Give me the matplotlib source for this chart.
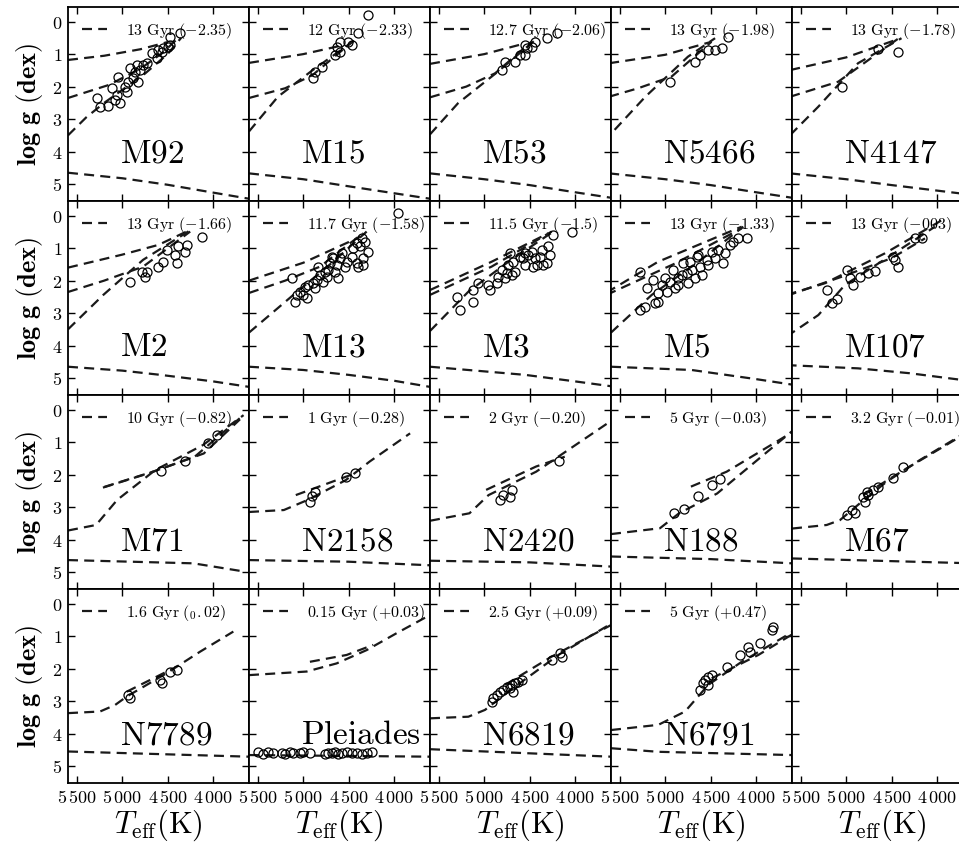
import matplotlib.pyplot as plt

plt.rcParams['mathtext.fontset'] = 'cm'

# ---- observed giants: effective temperature (K) and log g (dex) ----
m92_teff = [5283, 5246, 5154, 5117, 5080, 5062, 5044, 5025, 4970, 4933, 4951, 4915, 4878, 4859,
            4841, 4823, 4804, 4767, 4731, 4675, 4620, 4602, 4565, 4546, 4491, 4473, 4473, 4362]
m92_logg = [2.36, 2.62, 2.60, 2.05, 2.41, 2.26, 1.69, 2.51, 2.00, 1.85, 2.16, 1.44, 1.74, 1.54,
            1.33, 1.85, 1.49, 1.33, 1.28, 0.98, 1.13, 0.87, 0.92, 0.82, 0.77, 0.46, 0.72, 0.36]
m15_teff = [4889, 4871, 4797, 4650, 4631, 4594, 4594, 4502, 4465, 4392, 4281]
m15_logg = [1.75, 1.54, 1.39, 1.03, 0.77, 0.62, 0.93, 0.62, 0.72, 0.36, -0.20]
m53_teff = [4808, 4771, 4661, 4606, 4550, 4532, 4477, 4440, 4311, 4200, 4550]
m53_logg = [1.49, 1.23, 1.23, 1.03, 1.03, 0.82, 0.77, 0.62, 0.51, 0.36, 0.72]
n5466_teff = [4948, 4672, 4616, 4524, 4451, 4377, 4303]
n5466_logg = [1.85, 1.23, 1.03, 0.87, 0.87, 0.82, 0.46]
n4147_teff = [5051, 4646, 4432]
n4147_logg = [2.02, 0.85, 0.92]

m2_teff = [4915, 4786, 4749, 4730, 4602, 4546, 4509, 4417, 4399, 4381, 4307, 4289, 4123]
m2_logg = [2.03, 1.72, 1.88, 1.72, 1.57, 1.42, 1.06, 1.21, 1.47, 0.95, 1.11, 0.90, 0.65]
m13_teff = [5128, 5091, 5073, 5036, 4999, 4981, 4944, 4889, 4852, 4815, 4834, 4778, 4742, 4723,
            4705, 4686, 4650, 4631, 4613, 4594, 4576, 4539, 4521, 4465, 4447, 4410, 4410, 4373,
            4355, 4337, 4318, 4281, 4392, 4337, 4963, 4871, 4760, 4668, 3950]
m13_logg = [1.93, 2.65, 2.44, 2.34, 2.44, 2.19, 2.13, 2.08, 1.98, 1.83, 1.57, 2.03, 1.88, 1.67,
            1.47, 1.26, 1.72, 1.52, 1.93, 1.31, 1.16, 1.57, 1.42, 1.26, 1.01, 0.85, 1.47, 0.95,
            0.70, 1.31, 0.80, 1.11, 1.57, 1.52, 2.54, 2.24, 1.72, 1.31, -0.07]
m3_teff = [5305, 5268, 5121, 5121, 5066, 4955, 4937, 4863, 4845, 4808, 4753, 4734, 4716, 4679,
           4661, 4605, 4569, 4550, 4513, 4476, 4458, 4440, 4421, 4384, 4366, 4348, 4311, 4292,
           4274, 4237, 4034, 4697, 4771, 4550]
m3_logg = [2.49, 2.90, 2.65, 2.29, 2.08, 2.13, 2.29, 2.08, 1.88, 1.67, 1.78, 1.52, 1.16, 1.42,
           1.72, 1.26, 1.31, 1.52, 1.21, 1.11, 1.57, 1.31, 1.52, 1.26, 1.06, 1.52, 1.47, 0.95,
           1.21, 0.60, 0.49, 1.83, 1.93, 1.16]
m5_teff = [5279, 5279, 5224, 5206, 5132, 5114, 5077, 5040, 5003, 4985, 4948, 4911, 4893, 4856,
           4819, 4801, 4764, 4745, 4727, 4709, 4672, 4653, 4617, 4598, 4543, 4525, 4488, 4451,
           4414, 4359, 4340, 4285, 4248, 4193, 4101, 5077, 4856, 4635]
m5_logg = [1.72, 2.90, 2.80, 2.24, 1.98, 2.70, 2.39, 2.13, 1.93, 2.34, 2.03, 1.67, 2.24, 1.93,
           1.83, 1.47, 1.78, 2.08, 1.42, 1.67, 1.93, 1.26, 1.57, 1.83, 1.36, 1.52, 1.11, 1.31,
           1.06, 1.47, 1.16, 0.90, 0.80, 0.70, 0.70, 2.65, 2.13, 1.21]
m107_teff = [5217, 5162, 5107, 4996, 4959, 4922, 4849, 4757, 4683, 4480, 4462, 4425, 4241, 4167]
m107_logg = [2.29, 2.70, 2.56, 1.67, 1.93, 2.13, 1.88, 1.78, 1.70, 1.26, 1.36, 1.57, 0.70, 0.70]

m71_teff = [4567, 4304, 4057, 3952]
m71_logg = [1.88, 1.57, 1.04, 0.78]
n2158_teff = [4925, 4899, 4873, 4531, 4426]
n2158_logg = [2.83, 2.66, 2.52, 2.08, 1.96]
n2420_teff = [4822, 4795, 4716, 4690, 4174]
n2420_logg = [2.78, 2.63, 2.70, 2.47, 1.57]
n188_teff = [4901, 4796, 4638, 4480, 4401]
n188_logg = [3.19, 3.07, 2.66, 2.32, 2.14]
m67_teff = [4996, 4941, 4904, 4812, 4776, 4757, 4702, 4647, 4481, 4370, 4794]
m67_logg = [3.24, 3.09, 3.19, 2.68, 2.52, 2.63, 2.47, 2.37, 2.11, 1.78, 2.83]

n7789_teff = [4933, 4915, 4583, 4565, 4473, 4399]
n7789_logg = [2.81, 2.91, 2.35, 2.45, 2.09, 2.04]
pleiades_teff = [5497, 5442, 5387, 5332, 5240, 5203, 5148, 5111, 5037, 5000, 4927, 4761,
                 4724, 4687, 4650, 4614, 4577, 4521, 4466, 4411, 4356, 4300, 4245]
pleiades_logg = [4.58, 4.62, 4.57, 4.60, 4.59, 4.62, 4.58, 4.60, 4.61, 4.57, 4.60, 4.62,
                 4.59, 4.61, 4.58, 4.62, 4.60, 4.57, 4.61, 4.59, 4.62, 4.60, 4.58]
n6819_teff = [4918, 4900, 4863, 4826, 4790, 4753, 4716, 4697, 4661, 4624, 4587, 4255, 4163, 4145, 4679]
n6819_logg = [3.02, 2.91, 2.81, 2.71, 2.66, 2.56, 2.61, 2.50, 2.45, 2.40, 2.35, 1.73, 1.53, 1.63, 2.71]
n6791_teff = [4617, 4580, 4561, 4524, 4488, 4322, 4175, 4083, 4064, 3954, 3825, 3806, 4524]
n6791_logg = [2.66, 2.45, 2.35, 2.25, 2.20, 1.94, 1.58, 1.32, 1.48, 1.22, 0.81, 0.71, 2.50]

# ---- isochrone branches: (teff, logg) per dashed curve ----
m92_iso = [([5600, 5200, 4800, 4500], [1.18, 1.05, 0.85, 0.63]),
           ([5600, 5150, 4800, 4550, 4400], [2.35, 1.95, 1.45, 0.95, 0.55]),
           ([5600, 5400, 5200, 5000, 4750, 4500, 4350], [3.5, 2.95, 2.5, 2.1, 1.6, 1.0, 0.5]),
           ([5600, 5000, 4500, 4000, 3600], [4.65, 4.82, 5.02, 5.26, 5.45])]
m15_iso = [([5600, 5000, 4550], [1.27, 1.0, 0.72]),
           ([5600, 5200, 4900, 4450], [2.35, 2.05, 1.65, 0.6]),
           ([5600, 5280, 4900, 4430], [3.38, 2.31, 1.5, 0.57]),
           ([5600, 5000, 4540, 4000, 3600], [4.67, 4.85, 5.05, 5.28, 5.45])]
m53_iso = [([5600, 5000, 4550], [1.3, 1.0, 0.67]),
           ([5600, 5200, 4880, 4480], [2.33, 2.0, 1.59, 0.62]),
           ([5600, 5290, 4850, 4440], [3.47, 2.51, 1.54, 0.57]),
           ([5600, 5000, 4500, 4000, 3600], [4.67, 4.85, 5.03, 5.25, 5.42])]
n5466_iso = [([5620, 5000, 4490], [1.28, 1.02, 0.62]),
             ([5620, 5300, 4930, 4490], [2.31, 2.05, 1.69, 0.62]),
             ([5560, 5220, 4750, 4450], [3.33, 2.31, 1.08, 0.51]),
             ([5620, 5000, 4500, 4000, 3600], [4.67, 4.85, 5.03, 5.25, 5.42])]
n4147_iso = [([5620, 5000, 4460], [1.49, 1.1, 0.57]),
             ([5620, 5090, 4420], [2.31, 1.85, 0.51]),
             ([5620, 5310, 4870, 4390], [3.49, 2.62, 1.28, 0.51]),
             ([5620, 5000, 4500, 3760, 3600], [4.67, 4.85, 5.03, 5.28, 5.36])]

m2_iso = [([5600, 5000, 4600, 4290], [1.6, 1.2, 0.9, 0.49]),
          ([5600, 5200, 4770, 4250], [2.35, 2.0, 1.57, 0.49]),
          ([5600, 5210, 4770, 4215], [3.5, 2.44, 1.36, 0.39]),
          ([5600, 5000, 4580, 4000, 3600], [4.65, 4.77, 4.9, 5.1, 5.27])]
m13_iso = [([5600, 5000, 4370], [2.0, 1.45, 0.65]),
           ([5600, 5200, 4815, 4340], [2.38, 2.0, 1.57, 0.54]),
           ([5600, 5110, 4670, 4300], [3.6, 2.44, 1.42, 0.49]),
           ([5600, 5000, 4500, 4000, 3600], [4.65, 4.75, 4.9, 5.08, 5.27])]
m3_iso = [([5600, 4920, 4290], [2.29, 1.42, 0.54]),
          ([5600, 4920, 4255], [2.44, 1.57, 0.49]),
          ([5600, 5176, 4734, 4237], [3.55, 2.34, 1.42, 0.49]),
          ([5600, 4550, 4000, 3600], [4.65, 4.9, 5.1, 5.25])]
m5_iso = [([5650, 5080, 4156], [2.37, 1.42, 0.34]),
          ([5650, 4890, 4156], [2.44, 1.47, 0.39]),
          ([5600, 5150, 4635, 4138], [3.6, 2.44, 1.42, 0.34]),
          ([5600, 4710, 4000, 3600], [4.65, 4.75, 5.03, 5.2])]
m107_iso = [([5660, 5235, 4573, 3950], [2.44, 2.08, 1.16, 0.15]),
            ([5660, 5050, 4500, 4130], [2.47, 1.88, 1.31, 0.70]),
            ([5660, 5309, 5014, 4499, 4020], [3.72, 3.06, 2.13, 1.21, 0.34]),
            ([5660, 4870, 4300, 3600], [4.6, 4.7, 4.85, 5.1])]

m71_iso = [([5214, 4700, 4200, 3662], [2.40, 1.95, 1.45, 0.17]),
           ([5200, 4650, 4100, 3700], [2.38, 1.9, 1.35, 0.3]),
           ([5600, 5290, 5057, 4636, 4109, 3660], [3.72, 3.55, 2.78, 1.86, 1.09, 0.17]),
           ([5600, 4215, 3636], [4.63, 4.73, 4.99])]
n2158_iso = [([5083, 4426], [2.63, 1.96]),
             ([5600, 5215, 4952, 4531, 4268, 3820], [3.15, 3.09, 2.78, 2.17, 1.6, 0.73]),
             ([5600, 4500, 3600], [4.63, 4.68, 4.79])]
n2420_iso = [([4980, 4427, 4111], [2.47, 1.75, 1.45]),
             ([5600, 5164, 4953, 4427, 3638], [3.42, 3.19, 2.63, 1.91, 0.42]),
             ([5600, 4500, 3600], [4.65, 4.7, 4.83])]
n188_iso = [([4717, 4322, 3600], [2.37, 1.91, 0.7]),
            ([5600, 5059, 4848, 4427, 3585], [3.83, 3.65, 3.19, 2.58, 0.63]),
            ([5600, 4500, 3600], [4.52, 4.6, 4.73])]
m67_iso = [([4812, 4334, 3600], [2.63, 1.81, 0.6]),
           ([5600, 5217, 5070, 4849, 4555, 4186, 3600], [3.66, 3.55, 3.40, 2.88, 2.22, 1.55, 0.57]),
           ([5600, 3600], [4.58, 4.73])]

n7789_iso = [([4951, 4436], [2.71, 1.99]),
             ([5600, 5246, 5080, 4951, 4509, 4141, 3773], [3.37, 3.32, 3.12, 2.86, 2.14, 1.48, 0.86]),
             ([5600, 3600], [4.55, 4.71])]
pleiades_iso = [([4927, 4521, 4227], [1.79, 1.58, 1.27]),
                ([5600, 4963, 4632, 4300, 3969, 3600], [2.2, 2.09, 1.84, 1.43, 0.91, 0.35]),
                ([5600, 3600], [4.66, 4.71])]
n6819_iso = [([4771, 4255, 3600], [2.50, 1.63, 0.66]),
             ([5600, 5176, 4992, 4734, 4182, 3600], [3.53, 3.48, 3.27, 2.71, 1.58, 0.62]),
             ([5600, 3600], [4.48, 4.71])]
n6791_iso = [([4488, 3972, 3600], [2.30, 1.58, 0.95]),
             ([5600, 5077, 4782, 4525, 4156, 3600], [3.89, 3.73, 3.32, 2.50, 1.79, 0.88]),
             ([5600, 5077, 3600], [4.45, 4.56, 4.66])]

names = ["M92", "M15", "M53", "N5466", "N4147",
         "M2", "M13", "M3", "M5", "M107",
         "M71", "N2158", "N2420", "N188", "M67",
         "N7789", "Pleiades", "N6819", "N6791"]
ages = ["13 Gyr (-2.35)", "12 Gyr (-2.33)", "12.7 Gyr (-2.06)", "13 Gyr (-1.98)", "13 Gyr (-1.78)",
        "13 Gyr (-1.66)", "11.7 Gyr (-1.58)", "11.5 Gyr (-1.5)", "13 Gyr (-1.33)", "13 Gyr (-003)",
        "10 Gyr (-0.82)", "1 Gyr (-0.28)", "2 Gyr (-0.20)", "5 Gyr (-0.03)", "3.2 Gyr (-0.01)",
        r"$\mathrm{1.6\ Gyr\ (}_{\mathrm{0}}\mathrm{.02)}$", "0.15 Gyr (+0.03)",
        "2.5 Gyr (+0.09)", "5 Gyr (+0.47)"]
stars = [(m92_teff, m92_logg), (m15_teff, m15_logg), (m53_teff, m53_logg),
         (n5466_teff, n5466_logg), (n4147_teff, n4147_logg),
         (m2_teff, m2_logg), (m13_teff, m13_logg), (m3_teff, m3_logg),
         (m5_teff, m5_logg), (m107_teff, m107_logg),
         (m71_teff, m71_logg), (n2158_teff, n2158_logg), (n2420_teff, n2420_logg),
         (n188_teff, n188_logg), (m67_teff, m67_logg),
         (n7789_teff, n7789_logg), (pleiades_teff, pleiades_logg),
         (n6819_teff, n6819_logg), (n6791_teff, n6791_logg)]
isochrones = [m92_iso, m15_iso, m53_iso, n5466_iso, n4147_iso,
              m2_iso, m13_iso, m3_iso, m5_iso, m107_iso,
              m71_iso, n2158_iso, n2420_iso, n188_iso, m67_iso,
              n7789_iso, pleiades_iso, n6819_iso, n6791_iso]

xticks = [5500, 5000, 4500, 4000]
xtick_labels = [r"$5\,500$", r"$5\,000$", r"$4\,500$", r"$4\,000$"]
yticks = [0, 1, 2, 3, 4, 5]


def mtext(s):
    if s.startswith('$'):
        return s
    return r'$\mathrm{' + s.replace(' ', r'\ ') + '}$'


W, H = 959, 844
fig = plt.figure(figsize=(W / 100, H / 100), dpi=100)
col_x = [68, 249, 430, 611, 792]
row_y = [7, 201, 395, 589]
pw, ph = 181, 194
dash = (0, (4.5, 2.8))

for r in range(4):
    for c in range(5):
        ax = fig.add_axes([col_x[c] / W, 1 - (row_y[r] + ph) / H, pw / W, ph / H])
        i = r * 5 + c
        if i < len(names):
            for k, (t, g) in enumerate(isochrones[i]):
                ax.plot(t, g, color='#1a1a1a', lw=1.6, ls=dash,
                        label=mtext(ages[i]) if k == 0 else None)
            st, sg = stars[i]
            ax.plot(st, sg, 'o', ms=6.5, mfc='none', mec='black', mew=0.9)
            ax.text(0.29, 0.2, mtext(names[i]), transform=ax.transAxes,
                    fontsize=24, ha='left', va='baseline')
            ax.legend(loc='upper left', frameon=False, fontsize=11.5, handlelength=1.6,
                      handletextpad=1.2, borderaxespad=0.5, borderpad=0.35)
        ax.set_xlim(5600, 3600)
        ax.set_ylim(5.52, -0.45)
        ax.set_xticks(xticks, labels=xtick_labels)
        ax.set_yticks(yticks, labels=['$%d$' % v for v in yticks])
        ax.tick_params(direction='in', top=True, right=True, length=5, width=1,
                       labelsize=13, labelleft=(c == 0), labelbottom=(r == 3), pad=4)
        for s in ax.spines.values():
            s.set_linewidth(1.3)
        if c == 0:
            ax.set_ylabel(r"$\mathbf{log\ g\ (dex)}$", fontsize=19, labelpad=5)
        if r == 3:
            ax.set_xlabel(r"$T_{\rm eff}\mathrm{(K)}$", fontsize=22, labelpad=1)

fig.savefig("out.png", dpi=100)
